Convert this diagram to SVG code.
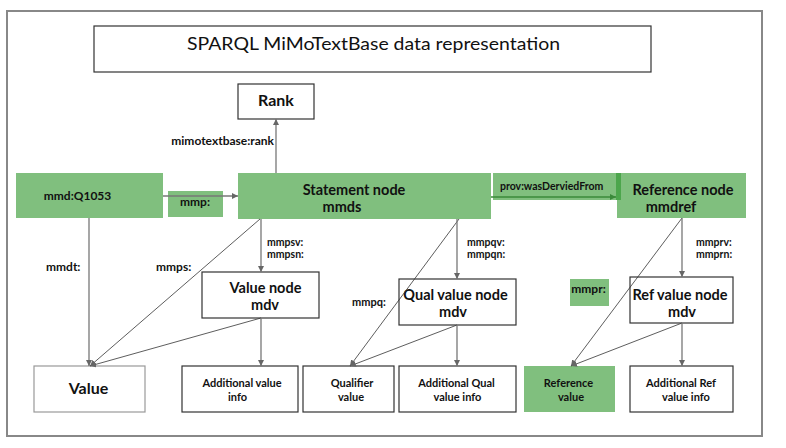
<svg xmlns="http://www.w3.org/2000/svg" width="786" height="448" viewBox="0 0 786 448">
<style>
text{font-family:Lato,"DejaVu Sans",sans-serif;font-weight:bold;fill:#111}
.c{text-anchor:middle}
.e{text-anchor:end}
.big{font-size:14.5px}
.mid{font-size:12px}
.sm{font-size:11px}
.xs{font-size:10.5px}
.g{fill:#80bf7e}
.w{fill:#fff;stroke:#333;stroke-width:1.2}
.v{stroke:#777;stroke-width:1.3;fill:none}
.d{stroke:#333;stroke-width:0.8;fill:none}
</style>
<defs>
<marker id="ah" markerUnits="userSpaceOnUse" markerWidth="7" markerHeight="6" refX="6" refY="3" orient="auto">
<path d="M0,0 L6,3 L0,6 z" fill="#666"/>
</marker>
<marker id="ahg" markerUnits="userSpaceOnUse" markerWidth="7" markerHeight="6" refX="6" refY="3" orient="auto">
<path d="M0,0 L6,3 L0,6 z" fill="#3a8a3a"/>
</marker>
</defs>
<rect x="0" y="0" width="786" height="448" fill="#fff"/>
<rect x="7" y="11" width="755" height="425" fill="#fff" stroke="#888" stroke-width="2"/>
<g id="title">
<rect x="94" y="26" width="557" height="46" fill="#fff" stroke="#333" stroke-width="1.2"/>
<text x="373.5" y="50" class="c" style="font-weight:normal;font-size:18px" textLength="373" lengthAdjust="spacingAndGlyphs">SPARQL MiMoTextBase data representation</text>
</g>
<g id="label-boxes">
<rect x="168" y="191" width="55" height="26" class="g"/>
<rect x="493" y="173" width="124" height="27" class="g"/>
<rect x="570" y="279" width="39" height="27" class="g"/>
</g>
<g id="rank"><rect x="238" y="84" width="76" height="35" class="w"/><text x="276" y="106" class="c" style="font-size:16px">Rank</text></g>
<g id="mmdQ1053"><rect x="16" y="173" width="147" height="45" class="g"/><text x="77.5" y="200" class="c mid">mmd:Q1053</text></g>
<g id="statement"><rect x="238" y="173" width="253" height="46" class="g"/><text x="354" y="195" class="c big">Statement node</text><text x="342" y="212" class="c big">mmds</text></g>
<g id="reference"><rect x="617" y="173" width="129" height="45" class="g"/><rect x="616" y="173" width="5" height="27" fill="#4ca64c"/><text x="683" y="195" class="c big">Reference node</text><text x="671" y="212" class="c big">mmdref</text></g>
<g id="valuenode"><rect x="202" y="272" width="117" height="46" class="w"/><text x="265.5" y="293" class="c big">Value node</text><text x="265" y="310" class="c big">mdv</text></g>
<g id="value"><rect x="34" y="366" width="111" height="46" fill="#fff" stroke="#999" stroke-width="1.2"/><text x="88.5" y="394" class="c" style="font-size:16px">Value</text></g>
<g id="addvalue"><rect x="182" y="366" width="116" height="46" class="w"/><text x="242" y="387" class="c sm">Additional value</text><text x="237.5" y="401" class="c sm">info</text></g>
<g id="qualifier"><rect x="303" y="366" width="91" height="46" class="w"/><text x="352" y="387" class="c sm">Qualifier</text><text x="351" y="401" class="c sm">value</text></g>
<g id="qualnode"><rect x="399" y="279" width="117" height="46" class="w"/><text x="455.5" y="300" class="c big">Qual value node</text><text x="453" y="317" class="c big">mdv</text></g>
<g id="addqual"><rect x="399" y="366" width="117" height="46" class="w"/><text x="456.5" y="387" class="c sm">Additional Qual</text><text x="457.5" y="401" class="c sm">value info</text></g>
<g id="refvalue"><rect x="524" y="366" width="91" height="46" class="g"/><text x="568.5" y="387" class="c sm">Reference</text><text x="571" y="401" class="c sm">value</text></g>
<g id="refnode"><rect x="630" y="277" width="103" height="46" class="w"/><text x="680" y="300" class="c big">Ref value node</text><text x="682" y="317" class="c big">mdv</text></g>
<g id="addref"><rect x="630" y="366" width="103" height="46" class="w"/><text x="681" y="387" class="c sm">Additional Ref</text><text x="686" y="401" class="c sm">value info</text></g>
<g id="connectors">
<line class="v" x1="276" y1="173" x2="276" y2="119" marker-end="url(#ah)"/>
<line class="v" x1="163" y1="196" x2="238" y2="196" marker-end="url(#ah)"/>
<line x1="491" y1="197" x2="616" y2="197" stroke="#3a8a3a" stroke-width="1.3" marker-end="url(#ahg)"/>
<line class="v" x1="89" y1="218" x2="89" y2="366" marker-end="url(#ah)"/>
<line class="d" x1="260" y1="219" x2="90" y2="366" marker-end="url(#ah)"/>
<line class="d" x1="261" y1="318" x2="90" y2="366" marker-end="url(#ah)"/>
<line class="v" x1="261" y1="219" x2="261" y2="272" marker-end="url(#ah)"/>
<line class="v" x1="261" y1="318" x2="261" y2="366" marker-end="url(#ah)"/>
<line class="d" x1="459" y1="219" x2="350" y2="366" marker-end="url(#ah)"/>
<line class="d" x1="457" y1="325" x2="350" y2="366" marker-end="url(#ah)"/>
<line class="v" x1="457" y1="219" x2="457" y2="279" marker-end="url(#ah)"/>
<line class="v" x1="457" y1="325" x2="457" y2="366" marker-end="url(#ah)"/>
<line class="d" x1="682" y1="218" x2="571" y2="366" marker-end="url(#ah)"/>
<line class="d" x1="682" y1="323" x2="571" y2="366" marker-end="url(#ah)"/>
<line class="v" x1="682" y1="218" x2="682" y2="277" marker-end="url(#ah)"/>
<line class="v" x1="682" y1="323" x2="682" y2="366" marker-end="url(#ah)"/>
</g>
<g id="labels">
<text x="274" y="145" class="e mid">mimotextbase:rank</text>
<text x="195" y="206" class="c mid">mmp:</text>
<text x="500" y="190" style="font-size:10.5px">prov:wasDerviedFrom</text>
<text x="46" y="271" class="mid">mmdt:</text>
<text x="156" y="271" class="mid">mmps:</text>
<text x="267" y="245.5" class="xs">mmpsv:</text>
<text x="267" y="258" class="xs">mmpsn:</text>
<text x="352" y="306" class="sm">mmpq:</text>
<text x="467" y="245.5" class="xs">mmpqv:</text>
<text x="467" y="258" class="xs">mmpqn:</text>
<text x="588.5" y="293" class="c mid">mmpr:</text>
<text x="696" y="245.5" class="xs">mmprv:</text>
<text x="696" y="258" class="xs">mmprn:</text>
</g>
</svg>
